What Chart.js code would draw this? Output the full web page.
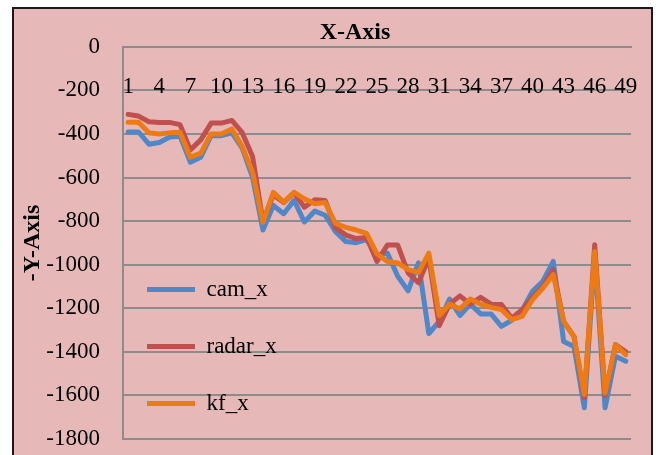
<!DOCTYPE html>
<html>
<head>
<meta charset="utf-8">
<script src="https://cdn.jsdelivr.net/npm/chart.js@4.4.1/dist/chart.umd.min.js"></script>
<style>
  html, body { margin: 0; padding: 0; background: #fff; overflow: hidden; width: 658px; height: 455px; }
  #frame { position: absolute; left: 12px; top: 7px; width: 637px; height: 470px; border: 2px solid #1a1a1a; background: #e6b9b8; }
  #chart { position: absolute; left: 0; top: 0; }
</style>
</head>
<body>
<div id="frame"></div>
<canvas id="chart" width="658" height="455"></canvas>
<script>
const categories = [
    "1", "2", "3", "4", "5", "6", "7", "8", "9", "10",
    "11", "12", "13", "14", "15", "16", "17", "18", "19", "20",
    "21", "22", "23", "24", "25", "26", "27", "28", "29", "30",
    "31", "32", "33", "34", "35", "36", "37", "38", "39", "40",
    "41", "42", "43", "44", "45", "46", "47", "48", "49",
];

const camX = [
    -391, -391, -447, -439, -414, -410, -530, -507, -408, -408,
    -395, -465, -600, -841, -728, -766, -705, -804, -754, -773,
    -849, -894, -899, -885, -955, -947, -1053, -1120, -992, -1316,
    -1260, -1158, -1233, -1181, -1226, -1226, -1283, -1255, -1210, -1122,
    -1076, -985, -1352, -1375, -1657, -960, -1657, -1420, -1443,
];

const radarX = [
    -310, -318, -344, -347, -347, -357, -473, -427, -350, -350,
    -338, -394, -504, -800, -680, -715, -670, -736, -702, -705,
    -830, -864, -880, -875, -985, -910, -910, -1038, -1083, -970,
    -1280, -1181, -1143, -1181, -1150, -1181, -1183, -1245, -1206, -1150,
    -1100, -1023, -1260, -1330, -1610, -908, -1600, -1367, -1400,
];

const kfX = [
    -346, -346, -395, -400, -395, -392, -507, -488, -400, -400,
    -377, -458, -575, -805, -668, -713, -668, -698, -720, -715,
    -811, -829, -841, -856, -950, -985, -992, -1023, -1035, -947,
    -1233, -1181, -1203, -1158, -1181, -1196, -1206, -1252, -1237, -1160,
    -1107, -1046, -1260, -1329, -1596, -939, -1589, -1367, -1413,
];

const serif = "'Liberation Serif', 'Times New Roman', serif";
const gridGray = "#8c8c8c";

// legend sits inside the plot, title is off-centre like the Excel original
const placeBoxes = {
    id: "placeBoxes",
    afterLayout(chart) {
        const area = chart.chartArea;
        const lg = chart.legend;
        lg.left = area.left - 10;
        lg.top = 244;
        lg.bottom = chart.height;
        const t = chart.titleBlock;
        t.left = 80;
        t.right = 630;
    },
};

function series(label, data, color, order) {
    return {
        label: label,
        data: data,
        borderColor: color,
        backgroundColor: color,
        borderWidth: 5,
        pointRadius: 0,
        tension: 0,
        fill: false,
        borderJoinStyle: "round",
        borderCapStyle: "round",
        order: order,
    };
}

new Chart(document.getElementById("chart"), {
    type: "line",
    data: {
        labels: categories,
        datasets: [
            series("cam_x", camX, "#4f87c8", 3),
            series("radar_x", radarX, "#c0504d", 2),
            series("kf_x", kfX, "#ee7a14", 1),
        ],
    },
    options: {
        responsive: false,
        animation: false,
        layout: { padding: { left: 15, right: 27, top: 8, bottom: 16 } },
        scales: {
            x: {
                position: { y: 0 },
                offset: true,
                afterFit: (s) => { s.height = 0; },
                grid: { display: false },
                border: { display: true, color: gridGray, width: 2 },
                ticks: {
                    autoSkip: false,
                    maxRotation: 0,
                    minRotation: 0,
                    padding: 18,
                    color: "#000",
                    font: { family: serif, size: 23 },
                    callback: (v, i) => (i % 3 === 0 ? categories[i] : ""),
                },
            },
            y: {
                min: -1800,
                max: 0,
                afterFit: (s) => {
                    s.width = 108;
                    s.paddingTop = 0;
                    s.paddingBottom = 0;
                },
                grid: { color: gridGray, lineWidth: 2, drawTicks: false },
                border: { display: true, color: gridGray, width: 2 },
                ticks: {
                    stepSize: 200,
                    padding: 23,
                    color: "#000",
                    font: { family: serif, size: 23 },
                    callback: (v) => String(v),
                },
                title: {
                    display: true,
                    text: "-Y-Axis",
                    color: "#000",
                    padding: { top: 3, bottom: 0 },
                    font: { family: serif, size: 24, weight: "bold" },
                },
            },
        },
        plugins: {
            title: {
                display: true,
                text: "X-Axis",
                color: "#000",
                padding: { top: 10, bottom: 0 },
                font: { family: serif, size: 24, weight: "bold" },
            },
            legend: {
                position: "chartArea",
                align: "start",
                labels: {
                    usePointStyle: true,
                    pointStyle: "line",
                    pointStyleWidth: 48,
                    padding: 34,
                    color: "#000",
                    font: { family: serif, size: 23 },
                    sort: (a, b) => a.datasetIndex - b.datasetIndex,
                },
            },
            tooltip: { enabled: false },
        },
    },
    plugins: [placeBoxes],
});
</script>
</body>
</html>
